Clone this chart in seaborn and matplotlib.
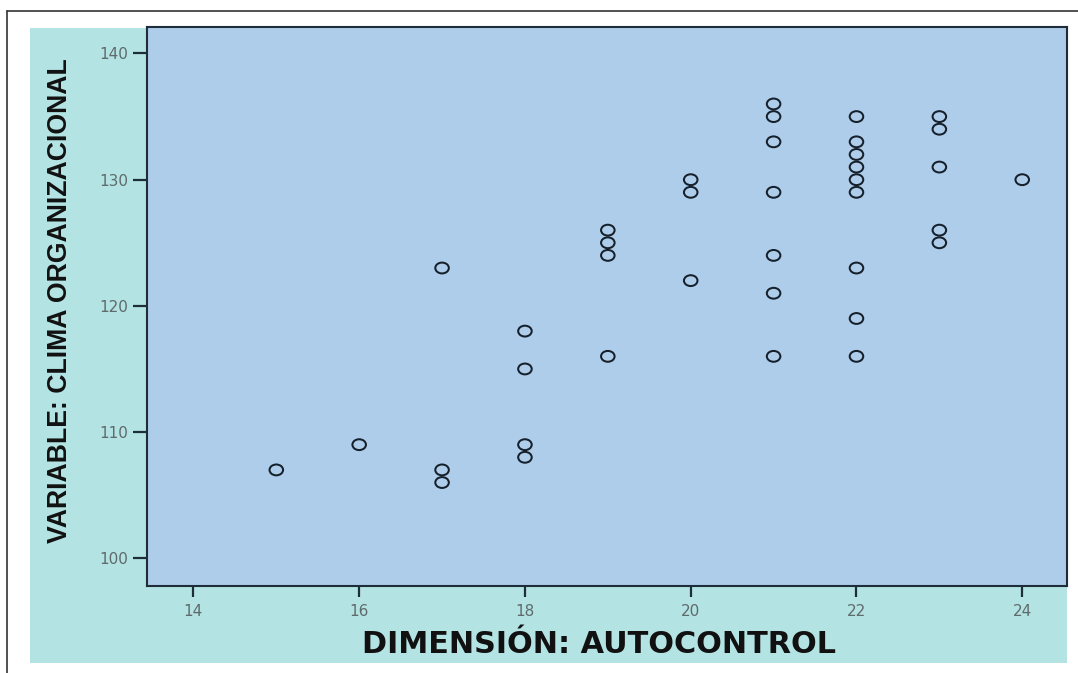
import matplotlib
matplotlib.use("Agg")
import matplotlib.pyplot as plt
import seaborn as sns
import pandas as pd
from matplotlib.path import Path
from matplotlib.transforms import Affine2D
from matplotlib.patches import Rectangle
from matplotlib.lines import Line2D

# ---- data ----
autocontrol = [15,
               16,
               17, 17, 17,
               18, 18, 18, 18,
               19, 19, 19, 19,
               20, 20, 20,
               21, 21, 21, 21, 21, 21, 21,
               22, 22, 22, 22, 22, 22, 22, 22, 22,
               23, 23, 23, 23, 23,
               24]
clima = [107,
         109,
         123, 107, 106,
         118, 115, 109, 108,
         126, 125, 124, 116,
         130, 129, 122,
         136, 135, 133, 129, 124, 121, 116,
         135, 133, 132, 131, 130, 129, 123, 119, 116,
         135, 134, 131, 126, 125,
         130]
x_ticks = [14, 16, 18, 20, 22, 24]
y_ticks = [100, 110, 120, 130, 140]
x_label = "DIMENSIÓN: AUTOCONTROL"
y_label = "VARIABLE: CLIMA ORGANIZACIONAL"

df = pd.DataFrame({"x": autocontrol, "y": clima})

sns.set_theme(style="white")
plt.rcParams["font.family"] = ["DejaVu Sans"]

W, H = 1078, 673
fig = plt.figure(figsize=(W / 100, H / 100), dpi=100, facecolor="white")

# outer document frame (top + left)
fig.add_artist(Line2D([7 / W, 1.0], [1 - 11 / H, 1 - 11 / H], transform=fig.transFigure,
                      color="#333333", lw=1.2))
fig.add_artist(Line2D([7 / W, 7 / W], [1 - 11 / H, 0.0], transform=fig.transFigure,
                      color="#333333", lw=1.2))

# teal chart background
fig.add_artist(Rectangle((30 / W, (H - 663) / H), (1067 - 30) / W, (663 - 28) / H,
                         transform=fig.transFigure, facecolor="#b3e3e3",
                         edgecolor="none", zorder=0))

ax = fig.add_axes([147 / W, (H - 586) / H, (1067 - 147) / W, (586 - 27) / H])
ax.set_facecolor("#aecdea")

# slightly wide ellipse marker (reference is stretched horizontally)
ell = Affine2D().scale(1.25, 1.0).transform_path(Path.unit_circle())

sns.scatterplot(data=df, x="x", y="y", ax=ax, marker=ell, s=95,
                edgecolor="#15202b", linewidth=1.45, color="#15202b", legend=False)
for c in ax.collections:
    c.set_facecolor("none")

ax.set_xlim(13.44, 24.54)
ax.set_ylim(97.8, 142.1)
ax.set_xticks(x_ticks)
ax.set_yticks(y_ticks)
ax.set_xticklabels([str(t) for t in x_ticks])
ax.set_yticklabels([str(t) for t in y_ticks])

for sp in ax.spines.values():
    sp.set_visible(True)
    sp.set_color("#1f2d3a")
    sp.set_linewidth(1.5)

ax.tick_params(axis="x", which="major", direction="out", length=8, width=1.6,
               color="#1f2d3a", pad=5, labelsize=11, labelcolor="#5f6a6b",
               bottom=True, top=False)
ax.tick_params(axis="y", which="major", direction="out", length=10, width=1.6,
               color="#1f2d3a", pad=3.5, labelsize=11, labelcolor="#5f6a6b",
               left=True, right=False)

ax.set_xlabel(x_label, fontsize=21.8, fontweight="bold", color="#111111",
              family=["DejaVu Sans"])
ax.set_ylabel(y_label, fontsize=19.2, fontweight="bold", color="#111111",
              family=["Liberation Sans", "DejaVu Sans"])
ax.xaxis.label.set_va("center")
ax.yaxis.label.set_va("center")
ax.xaxis.set_label_coords((598.5 - 147) / 920, (586 - 644.5) / 559)
ax.yaxis.set_label_coords((60 - 147) / 920, (586 - 301) / 559)

fig.savefig("out.png", dpi=100, facecolor="white")
